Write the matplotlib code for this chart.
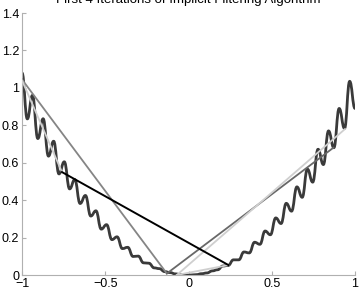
import matplotlib
matplotlib.use("Agg")
import matplotlib.pyplot as plt
from matplotlib.path import Path
from matplotlib.patches import PathPatch

plt.rcParams['font.family'] = ['Liberation Sans', 'DejaVu Sans']

# wiggly objective, read at its peaks and troughs
fx = [-1.000, -0.968, -0.937, -0.905, -0.873, -0.841, -0.810, -0.778, -0.746, -0.714,
      -0.683, -0.651, -0.619, -0.587, -0.556, -0.524, -0.492, -0.460, -0.429, -0.397,
      -0.365, -0.333, -0.302, -0.270, -0.238, -0.206, -0.175, -0.143, -0.111, -0.079,
      -0.048, -0.016, 0.016, 0.048, 0.079, 0.111, 0.143, 0.175, 0.206, 0.238,
      0.270, 0.302, 0.333, 0.365, 0.397, 0.429, 0.460, 0.492, 0.524, 0.556,
      0.587, 0.619, 0.651, 0.683, 0.714, 0.746, 0.778, 0.810, 0.841, 0.873,
      0.905, 0.937, 0.968, 1.000]
fy = [1.080, 0.834, 0.960, 0.729, 0.835, 0.635, 0.715, 0.540, 0.605, 0.460,
      0.510, 0.382, 0.425, 0.315, 0.343, 0.245, 0.269, 0.189, 0.204, 0.141,
      0.148, 0.099, 0.101, 0.065, 0.063, 0.038, 0.034, 0.018, 0.013, 0.006,
      0.002, 0.000, 0.000, 0.002, 0.007, 0.011, 0.022, 0.028, 0.048, 0.051,
      0.081, 0.081, 0.123, 0.118, 0.175, 0.164, 0.235, 0.215, 0.305, 0.275,
      0.383, 0.341, 0.471, 0.415, 0.566, 0.496, 0.672, 0.590, 0.770, 0.680,
      0.890, 0.783, 1.035, 0.890]

# iteration segments
it1_x, it1_y = [-1.0, -0.13], [1.045, 0.008]
it2_x, it2_y = [-0.13, 0.87], [0.008, 0.68]
it3a_x, it3a_y = [-1.0, -0.76], [1.04, 0.55]
it3b_x, it3b_y = [-0.07, 0.94], [0.0, 0.78]
it3c_x, it3c_y = [-0.07, 0.24], [0.0, 0.053]
it4_x, it4_y = [-0.76, 0.24], [0.55, 0.053]

fig = plt.figure(figsize=(3.64, 2.94), dpi=100)
ax = fig.add_axes([22 / 364, 1 - 275 / 294, 333 / 364, 262 / 294])

# smooth the wiggles: cubic segments with flat tangents at each extremum
verts = [(fx[0], fy[0])]
codes = [Path.MOVETO]
for i in range(1, len(fx)):
    d = (fx[i] - fx[i - 1]) * 0.45
    verts += [(fx[i - 1] + d, fy[i - 1]), (fx[i] - d, fy[i]), (fx[i], fy[i])]
    codes += [Path.CURVE4] * 3
ax.add_patch(PathPatch(Path(verts, codes), fill=False, edgecolor='#3a3a3a',
                       lw=2.0, capstyle='round', joinstyle='round', zorder=2))

ax.plot(it1_x, it1_y, color='#858585', lw=1.3, zorder=3)
ax.plot(it2_x, it2_y, color='#686868', lw=1.3, zorder=3)
ax.plot(it3a_x, it3a_y, color='#cfcfcf', lw=1.3, zorder=3)
ax.plot(it3b_x, it3b_y, color='#cfcfcf', lw=1.3, zorder=3)
ax.plot(it3c_x, it3c_y, color='#cfcfcf', lw=1.3, zorder=3)
ax.plot(it4_x, it4_y, color='black', lw=1.4, zorder=4)

ax.set_xlim(-1, 1)
ax.set_ylim(0, 1.4)
ax.set_xticks([-1, -0.5, 0, 0.5, 1])
ax.set_xticklabels(['\u22121', '\u22120.5', '0', '0.5', '1'])
ax.set_yticks([0, 0.2, 0.4, 0.6, 0.8, 1, 1.2, 1.4])
ax.set_yticklabels(['0', '0.2', '0.4', '0.6', '0.8', '1', '1.2', '1.4'])
for s in ['top', 'right']:
    ax.spines[s].set_visible(False)
for s in ['left', 'bottom']:
    ax.spines[s].set_color('#b0b0b0')
    ax.spines[s].set_linewidth(0.8)
ax.tick_params(direction='in', length=3, color='#b0b0b0', labelsize=9, pad=2)

# title sits partly above the canvas, as in the original
fig.text(0.5 * (22 + 355) / 364, 1 - 3 / 294,
         'First 4 Iterations of Implicit Filtering Algorithm',
         ha='center', va='baseline', fontsize=9.5)

fig.savefig('out.png', dpi=100)
